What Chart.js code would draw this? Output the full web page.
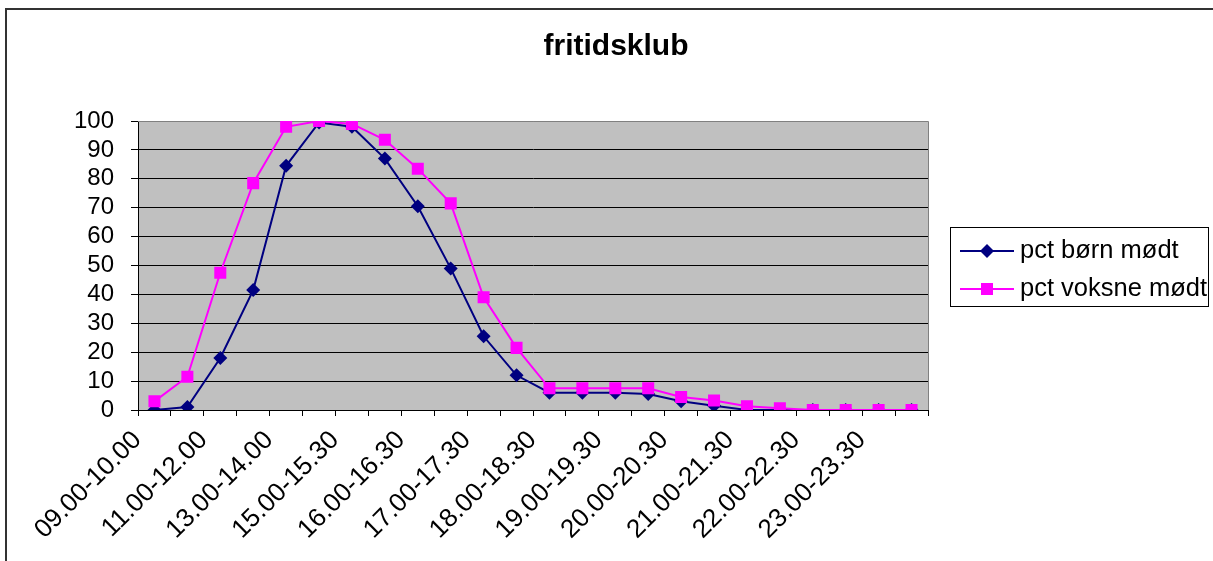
<!DOCTYPE html>
<html>
<head>
<meta charset="utf-8">
<script src="https://cdn.jsdelivr.net/npm/chart.js@4/dist/chart.umd.min.js"></script>
<style>
  html, body { margin: 0; padding: 0; background: #fff; }
  #wrap { width: 1213px; height: 561px; position: relative; }
</style>
</head>
<body>
<div id="wrap"><canvas id="c" width="1213" height="561"></canvas></div>
<script>
const chartTitle = 'fritidsklub';
const categories = ['09.00-10.00','10.00-11.00','11.00-12.00','12.00-13.00','13.00-14.00','14.00-15.00',
  '15.00-15.30','15.30-16.00','16.00-16.30','16.30-17.00','17.00-17.30','17.30-18.00',
  '18.00-18.30','18.30-19.00','19.00-19.30','19.30-20.00','20.00-20.30','20.30-21.00',
  '21.00-21.30','21.30-22.00','22.00-22.30','22.30-23.00','23.00-23.30','23.30-24.00'];
const seriesNames = ['pct børn mødt', 'pct voksne mødt'];
const bornValues = [0, 1, 18, 41.5, 84.5, 99.5, 98, 87, 70.5, 49, 25.5, 12, 6, 6, 6, 5.5, 3, 1.5, 0, 0, 0, 0, 0, 0];
const voksneValues = [3, 11.5, 47.5, 78.5, 98, 100, 99, 93.5, 83.5, 71.5, 39, 21.5, 7.5, 7.5, 7.5, 7.5, 4.5, 3.3, 1.3, 0.6, 0, 0, 0, 0];
const yTicks = [0, 10, 20, 30, 40, 50, 60, 70, 80, 90, 100];

const FONT = 'Arial, "Liberation Sans", sans-serif';

const decor = {
  id: 'decor',
  beforeDraw(chart) {
    const ctx = chart.ctx;
    const a = chart.chartArea;
    ctx.save();
    ctx.fillStyle = '#fff';
    ctx.fillRect(0, 0, chart.width, chart.height);
    ctx.strokeStyle = '#333';
    ctx.lineWidth = 2;
    ctx.strokeRect(6, 9, 1400, 700);
    ctx.fillStyle = '#C0C0C0';
    ctx.fillRect(a.left, a.top, a.right - a.left, a.bottom - a.top);
    ctx.restore();
  },
  beforeDatasetsDraw(chart) {
    const ctx = chart.ctx;
    const a = chart.chartArea;
    ctx.save();
    ctx.strokeStyle = '#808080';
    ctx.lineWidth = 1;
    ctx.beginPath();
    ctx.moveTo(a.left, a.top + 0.5);
    ctx.lineTo(a.right + 0.5, a.top + 0.5);
    ctx.lineTo(a.right + 0.5, a.bottom);
    ctx.stroke();
    ctx.restore();
  },
  afterDraw(chart) {
    const ctx = chart.ctx;
    ctx.save();
    ctx.fillStyle = '#000';
    ctx.font = 'bold 30px ' + FONT;
    ctx.textAlign = 'center';
    ctx.textBaseline = 'alphabetic';
    ctx.fillText(chartTitle, 616, 55);
    ctx.strokeStyle = '#000';
    ctx.lineWidth = 1;
    ctx.strokeRect(950.5, 227.5, 258, 79);
    const rows = [251, 289];
    chart.data.datasets.forEach((ds, i) => {
      const y = rows[i];
      ctx.strokeStyle = ds.borderColor;
      ctx.lineWidth = 2;
      ctx.beginPath();
      ctx.moveTo(960, y);
      ctx.lineTo(1014, y);
      ctx.stroke();
      ctx.fillStyle = ds.pointBackgroundColor;
      const cx = 987;
      ctx.beginPath();
      if (ds.pointStyle === 'rectRot') {
        const r = 7;
        ctx.moveTo(cx - r, y); ctx.lineTo(cx, y - r); ctx.lineTo(cx + r, y); ctx.lineTo(cx, y + r);
        ctx.closePath();
      } else {
        ctx.rect(cx - 6, y - 6, 12, 12);
      }
      ctx.fill();
      ctx.fillStyle = '#000';
      ctx.font = '25.5px ' + FONT;
      ctx.textAlign = 'left';
      ctx.textBaseline = 'middle';
      ctx.fillText(ds.label, 1020, y);
    });
    ctx.restore();
  }
};

new Chart(document.getElementById('c'), {
  type: 'line',
  data: {
    labels: categories,
    datasets: [
      {
        label: seriesNames[0],
        data: bornValues,
        borderColor: '#000080',
        backgroundColor: '#000080',
        pointBackgroundColor: '#000080',
        pointBorderColor: '#000080',
        pointStyle: 'rectRot',
        pointRadius: 7,
        pointBorderWidth: 0,
        borderWidth: 2,
        tension: 0,
        order: 1
      },
      {
        label: seriesNames[1],
        data: voksneValues,
        borderColor: '#FF00FF',
        backgroundColor: '#FF00FF',
        pointBackgroundColor: '#FF00FF',
        pointBorderColor: '#FF00FF',
        pointStyle: 'rect',
        pointRadius: 8.5,
        pointBorderWidth: 0,
        borderWidth: 2,
        tension: 0,
        order: 0
      }
    ]
  },
  options: {
    responsive: false,
    animation: false,
    devicePixelRatio: 1,
    layout: { padding: { left: 0, right: 285, top: 121, bottom: 0 } },
    plugins: {
      legend: { display: false },
      title: { display: false },
      tooltip: { enabled: false }
    },
    scales: {
      x: {
        offset: true,
        afterFit(scale) { scale.height = 151; },
        grid: {
          offset: true,
          drawOnChartArea: false,
          drawTicks: true,
          tickLength: 6,
          color: '#000'
        },
        border: { color: '#000', width: 1 },
        ticks: {
          autoSkip: false,
          maxRotation: 45,
          minRotation: 45,
          labelOffset: -17,
          padding: 9,
          color: '#000',
          font: { family: FONT, size: 26 },
          callback(value, index) { return index % 2 === 0 ? categories[index] : ''; }
        }
      },
      y: {
        min: 0,
        max: 100,
        afterFit(scale) { scale.width = 138; },
        afterBuildTicks(scale) { scale.ticks = yTicks.map(v => ({ value: v })); },
        grid: {
          color: ctx => (ctx.tick && ctx.tick.value === 100 ? '#808080' : '#000'),
          lineWidth: 1,
          tickLength: 7,
          tickColor: '#000',
          drawTicks: true
        },
        border: { color: '#000', width: 1 },
        ticks: {
          autoSkip: false,
          padding: 17,
          color: '#000',
          font: { family: FONT, size: 24 }
        }
      }
    }
  },
  plugins: [decor]
});
</script>
</body>
</html>
